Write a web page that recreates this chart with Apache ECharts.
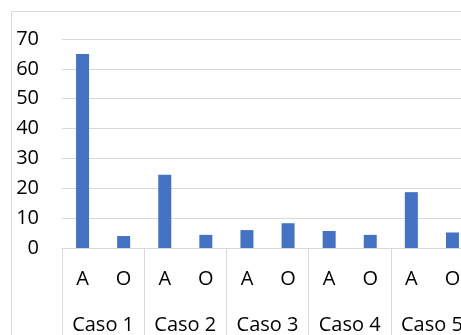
<!DOCTYPE html>
<html>
<head>
<meta charset="utf-8">
<script src="https://cdn.jsdelivr.net/npm/echarts@6/dist/echarts.min.js"></script>
<style>
  html, body { margin: 0; padding: 0; background: #fff; }
  #chart { width: 461px; height: 335px; }
</style>
</head>
<body>
<div id="chart"></div>
<script>
// valores
const groups = ["Caso 1", "Caso 2", "Caso 3", "Caso 4", "Caso 5"];
const subCats = ["A", "O"];
const valuesA = [65, 24.5, 6, 5.7, 18.7];
const valuesO = [4, 4.4, 8.3, 4.4, 5.2];
const yTicks = { min: 0, max: 70, step: 10 };

// eje interior: A, O, A, O ...
const innerCats = [];
const barData = [];
groups.forEach((g, i) => {
  innerCats.push(subCats[0], subCats[1]);
  barData.push(valuesA[i], valuesO[i]);
});

const chart = echarts.init(document.getElementById("chart"));
const font = "'Open Sans', 'Noto Sans', sans-serif";
const gridColor = "#d9d9d9";

chart.setOption({
  animation: false,
  textStyle: { fontFamily: font },
  graphic: [
    {
      type: "rect",
      shape: { x: 11.5, y: 11.5, width: 600, height: 500 },
      style: { fill: "none", stroke: gridColor, lineWidth: 1 },
      silent: true,
    },
  ],
  grid: {
    left: 62,
    top: 39,
    width: 411,
    height: 209,
    containLabel: false,
    outerBoundsMode: "none",
  },
  xAxis: [
    {
      type: "category",
      data: innerCats,
      axisLine: { show: true, lineStyle: { color: gridColor, width: 1 } },
      axisTick: { show: false },
      axisLabel: {
        interval: 0,
        margin: 21,
        color: "#000",
        fontSize: 20,
        fontFamily: font,
        lineHeight: 20,
      },
    },
    {
      type: "category",
      data: groups,
      position: "bottom",
      axisLine: { show: false },
      axisTick: {
        show: true,
        length: 100,
        interval: 0,
        lineStyle: { color: gridColor, width: 1 },
      },
      axisLabel: {
        interval: 0,
        margin: 67,
        color: "#000",
        fontSize: 20,
        fontFamily: font,
        lineHeight: 20,
      },
    },
  ],
  yAxis: {
    type: "value",
    min: yTicks.min,
    max: yTicks.max,
    interval: yTicks.step,
    axisLine: { show: false },
    axisTick: { show: false },
    splitLine: { lineStyle: { color: gridColor, width: 1 } },
    axisLabel: {
      margin: 23,
      color: "#000",
      fontSize: 20,
      fontFamily: font,
    },
  },
  series: [
    {
      type: "bar",
      data: barData,
      barWidth: 13,
      itemStyle: { color: "#4472c4" },
    },
  ],
});
</script>
</body>
</html>
